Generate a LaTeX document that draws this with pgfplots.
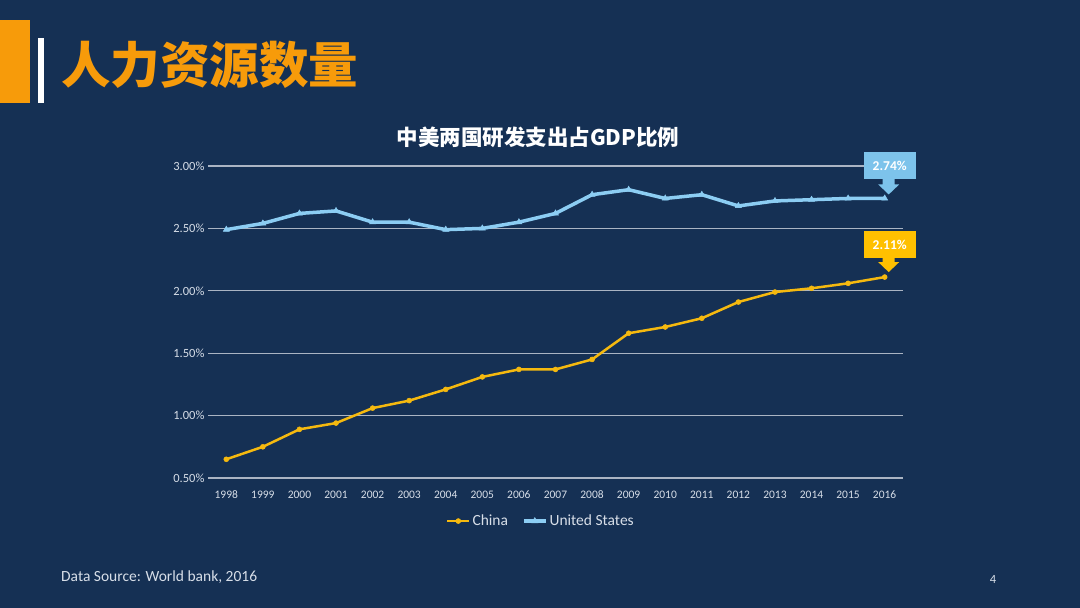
\documentclass[border=0pt]{standalone}
\usepackage{pgfplots}
\pgfplotsset{compat=1.18}
\usepackage{fontspec}
\setmainfont{Carlito}
\newfontfamily\cjk{Noto Sans CJK SC}
\definecolor{bg}{RGB}{21,48,84}
\definecolor{orng}{RGB}{247,155,10}
\definecolor{cnline}{RGB}{245,185,15}
\definecolor{usline}{RGB}{140,205,243}
\definecolor{usbox}{RGB}{125,195,235}
\definecolor{cnbox}{RGB}{255,192,0}
\definecolor{gridc}{RGB}{170,180,195}
\definecolor{lbl}{RGB}{215,222,232}
\begin{document}
\begin{tikzpicture}[x=1pt,y=1pt]
\fill[bg] (0,0) rectangle (1080,608);
\fill[orng] (0,505) rectangle (30,588);
\fill[white] (38,505) rectangle (44,570);
\node[anchor=west,text=orng,font=\cjk\bfseries\fontsize{49.5}{53}\selectfont,inner sep=0pt] at (61,543) {人力资源数量};
\node[text=white,font=\cjk\bfseries\fontsize{21.5}{24}\selectfont] at (538,471) {中美两国研发支出占GDP比例};
\node[anchor=west,text=lbl,font=\fontsize{15.5}{17}\selectfont,inner sep=0pt] at (61,31) {Data Source: World bank, 2016};
\node[text=lbl,font=\fontsize{12.5}{14}\selectfont] at (993,29) {4};
\begin{axis}[at={(208pt,130pt)}, anchor=south west, scale only axis,
  width=695pt, height=312pt,
  xmin=1997.5, xmax=2016.5, ymin=0.5, ymax=3.0,
  axis line style={draw=none}, major tick length=0pt,
  ymajorgrids, grid style={gridc, line width=1.2pt},
  ytick={0.5,1,1.5,2,2.5,3},
  yticklabels={0.50\%,1.00\%,1.50\%,2.00\%,2.50\%,3.00\%},
  xtick={1998,...,2016},
  xticklabels={1998,1999,2000,2001,2002,2003,2004,2005,2006,2007,2008,2009,2010,2011,2012,2013,2014,2015,2016},
  yticklabel style={text=lbl, font=\fontsize{12.5}{14}\selectfont},
  xticklabel style={text=lbl, font=\fontsize{11.5}{13}\selectfont, text height=8pt, text depth=0pt, yshift=-9pt},
  clip=false,
  legend columns=2,
  legend style={at={(0.479,-0.138)}, anchor=center, draw=none, fill=none,
    text=lbl, font=\fontsize{15.5}{17}\selectfont,
    /tikz/every even column/.append style={column sep=12pt}},
  legend image code/.code={\draw[mark repeat=2,mark phase=2,#1] plot coordinates {(0pt,0pt) (11pt,0pt) (22pt,0pt)};},
]
\addplot[cnline, line width=2.5pt, mark=*, mark size=2.5pt, mark options={fill=cnline,draw=cnline,line width=0.5pt}] coordinates {
(1998,0.65) (1999,0.75) (2000,0.89) (2001,0.94) (2002,1.06) (2003,1.12) (2004,1.21) (2005,1.31) (2006,1.37) (2007,1.37) (2008,1.45) (2009,1.66) (2010,1.71) (2011,1.78) (2012,1.91) (2013,1.99) (2014,2.02) (2015,2.06) (2016,2.11)};
\addlegendentry{China}
\addplot[usline, line width=3.5pt, mark=triangle*, mark size=3.5pt, mark options={fill=usline,draw=usline,line width=0.5pt}] coordinates {
(1998,2.49) (1999,2.54) (2000,2.62) (2001,2.64) (2002,2.55) (2003,2.55) (2004,2.49) (2005,2.50) (2006,2.55) (2007,2.62) (2008,2.77) (2009,2.81) (2010,2.74) (2011,2.77) (2012,2.68) (2013,2.72) (2014,2.73) (2015,2.74) (2016,2.74)};
\addlegendentry{United States}
\coordinate (us) at (axis cs:2016,2.74);
\coordinate (cn) at (axis cs:2016,2.11);
\end{axis}
\fill[usbox] ([shift={(-21pt,19pt)}]us) rectangle ([shift={(31pt,46pt)}]us);
\fill[usbox] ([shift={(-2pt,20pt)}]us) -- ([shift={(-2pt,14pt)}]us) -- ([shift={(-6.5pt,14pt)}]us) -- ([shift={(4pt,4pt)}]us) -- ([shift={(14.5pt,14pt)}]us) -- ([shift={(10pt,14pt)}]us) -- ([shift={(10pt,20pt)}]us) -- cycle;
\node[text=white,font=\bfseries\fontsize{13.5}{15}\selectfont] at ([shift={(5pt,32.5pt)}]us) {2.74\%};
\fill[cnbox] ([shift={(-21pt,19pt)}]cn) rectangle ([shift={(31pt,46pt)}]cn);
\fill[cnbox] ([shift={(-2pt,20pt)}]cn) -- ([shift={(-2pt,15pt)}]cn) -- ([shift={(-6.5pt,15pt)}]cn) -- ([shift={(4pt,5pt)}]cn) -- ([shift={(14.5pt,15pt)}]cn) -- ([shift={(10pt,15pt)}]cn) -- ([shift={(10pt,20pt)}]cn) -- cycle;
\node[text=white,font=\bfseries\fontsize{13.5}{15}\selectfont] at ([shift={(5pt,32.5pt)}]cn) {2.11\%};
\end{tikzpicture}
\end{document}
